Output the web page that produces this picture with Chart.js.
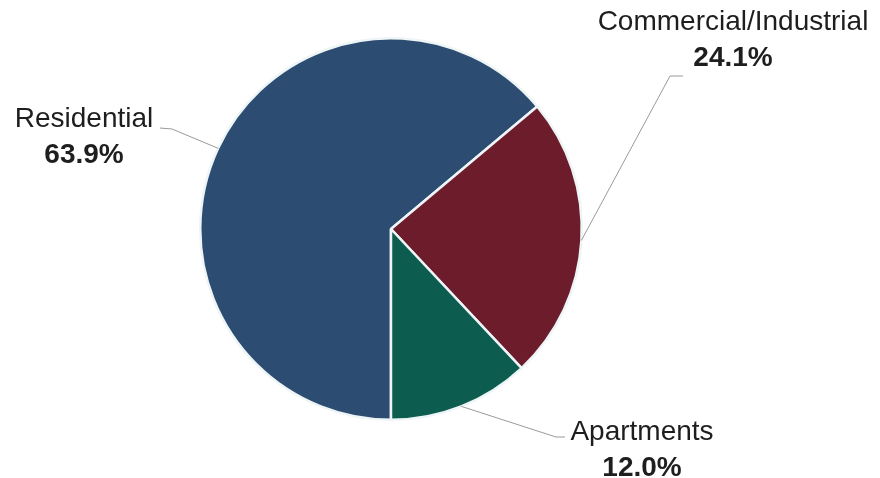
<!DOCTYPE html>
<html>
<head>
<meta charset="utf-8">
<script src="https://cdn.jsdelivr.net/npm/chart.js@4"></script>
<style>
  html, body { margin: 0; padding: 0; background: #fff; }
  #wrap { width: 880px; height: 478px; }
</style>
</head>
<body>
<div id="wrap"><canvas id="pieChart" width="880" height="478"></canvas></div>
<script>
// data
const categories = ["Residential", "Commercial/Industrial", "Apartments"];
const shares = [63.9, 24.1, 12.0];
const sliceColors = ["#2c4c72", "#6d1c2b", "#0c5c50"];

// where each label sits, relative to the pie centre (elbow, line end, text centre)
const labelLayout = [
    { elbow: [-219, -100], end: [-231, -101], text: [-307, -110] },
    { elbow: [279, -153], end: [292, -153], text: [342, -207] },
    { elbow: [165, 208], end: [174, 208], text: [251, 203] }
];

// plugin buat gambar label + garis penunjuk
const leaderLabels = {
    id: "leaderLabels",
    afterDraw(chart) {
        const c = chart.ctx;
        const arcs = chart.getDatasetMeta(0).data;
        arcs.forEach((arc, i) => {
            const { x, y, outerRadius, startAngle, endAngle } = arc.getProps(["x", "y", "outerRadius", "startAngle", "endAngle"], true);
            const mid = (startAngle + endAngle) / 2;
            const sx = x + Math.cos(mid) * outerRadius;
            const sy = y + Math.sin(mid) * outerRadius;
            const lay = labelLayout[i];

            c.save();
            c.strokeStyle = "#9a9a9a";
            c.lineWidth = 1;
            c.beginPath();
            c.moveTo(sx, sy);
            c.lineTo(x + lay.elbow[0], y + lay.elbow[1]);
            c.lineTo(x + lay.end[0], y + lay.end[1]);
            c.stroke();

            c.fillStyle = "#1e1e1e";
            c.textAlign = "center";
            c.textBaseline = "middle";
            const tx = x + lay.text[0];
            const ty = y + lay.text[1];
            c.font = "28px 'Liberation Sans', Arial, sans-serif";
            c.fillText(categories[i], tx, ty);
            c.font = "bold 28px 'Liberation Sans', Arial, sans-serif";
            c.fillText(shares[i].toFixed(1) + "%", tx, ty + 36);
            c.restore();
        });
    }
};

const ctx = document.getElementById("pieChart").getContext("2d");
const pieChart = new Chart(ctx, {
    type: "pie",
    data: {
        labels: categories,
        datasets: [{
            data: shares,
            backgroundColor: sliceColors,
            borderColor: "#eef5f7",
            borderWidth: 2.5
        }]
    },
    options: {
        responsive: false,
        animation: false,
        rotation: 180,
        layout: { padding: { left: 199, right: 297, top: 37, bottom: 57 } },
        plugins: {
            legend: { display: false },
            tooltip: { enabled: false }
        }
    },
    plugins: [leaderLabels]
});
</script>
</body>
</html>
